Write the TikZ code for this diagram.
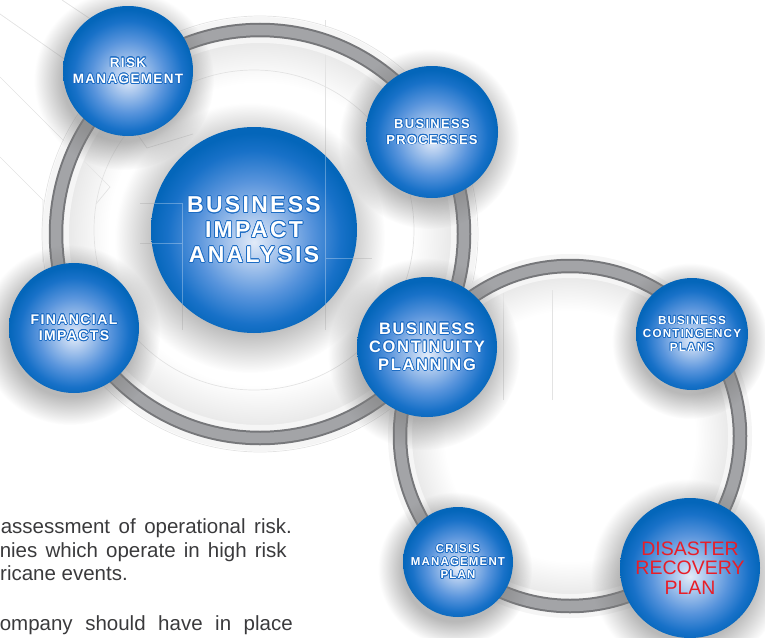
\documentclass[tikz,border=0pt]{standalone}
\usepackage{fontspec}
\setmainfont{Liberation Sans}
\newfontfamily\ballfont{Liberation Sans}[LetterSpace=10]
\usepackage[copies]{contour}
\contourlength{0.7pt}
\usetikzlibrary{fadings}

\definecolor{ballcore}{RGB}{226,235,248}
\definecolor{balllite}{RGB}{178,204,239}
\definecolor{ballmid}{RGB}{88,148,220}
\definecolor{balldeep}{RGB}{24,113,200}
\definecolor{balledge}{RGB}{4,102,186}
\definecolor{ballline}{RGB}{28,108,196}
\definecolor{ringdark}{RGB}{118,119,122}
\definecolor{ringmid}{RGB}{163,164,167}
\definecolor{drpred}{RGB}{232,30,40}
\definecolor{bodytext}{RGB}{58,58,60}

% TikZ maps 25bp of a shading onto the rim of the path
\pgfdeclareradialshading{ballshade}{\pgfpoint{0bp}{-3bp}}{%
  color(0bp)=(ballcore); color(5bp)=(balllite); color(14bp)=(ballmid);
  color(21bp)=(balldeep); color(25bp)=(balledge); color(50bp)=(balledge)}
\pgfdeclareradialshading{ballfadeshade}{\pgfpointorigin}{%
  color(0bp)=(pgftransparent!45); color(17bp)=(pgftransparent!45);
  color(25bp)=(pgftransparent!100); color(50bp)=(pgftransparent!100)}
\pgfdeclarefading{ballfade}{\pgfuseshading{ballfadeshade}}
\pgfdeclareradialshading{ringfadeshade}{\pgfpointorigin}{%
  color(0bp)=(pgftransparent!100); color(19bp)=(pgftransparent!100);
  color(25bp)=(pgftransparent!0); color(50bp)=(pgftransparent!0)}
\pgfdeclarefading{ringfade}{\pgfuseshading{ringfadeshade}}

\newcommand{\balltxt}[1]{\contour{ballline}{#1}}

\begin{document}
\begin{tikzpicture}[x=1pt, y=-1pt,
  ball/.style={circle, inner sep=0pt, shade, shading=ballshade, text=white, align=center},
  ballglow/.style={fill=black!50, path fading=ballfade},
  ring/.style={line width=14.5pt, draw=ringdark},
  ringin/.style={line width=10.5pt, draw=ringmid},
  bgline/.style={draw=black!11, line width=0.7pt},
  body/.style={anchor=base east, inner sep=0pt, text=bodytext, font=\fontsize{20.5}{24}\selectfont}]
\useasboundingbox (0,0) rectangle (765,637);

% Ring centres
\coordinate (ringA) at (260,234);
\coordinate (ringB) at (570,436);

% Faint background lines
\draw[bgline] (0,14) -- (80,70);
\draw[bgline] (62,0) -- (95,22);
\draw[bgline] (0,77) -- (110,187) -- (96,204);
\draw[bgline] (0,157) -- (43,200) -- (43,262);
\draw[bgline] (133,128) -- (147,148) -- (193,134);
\draw[bgline] (325,20) -- (325,330);
\draw[bgline] (140,203) -- (182,203) -- (182,330);
\draw[bgline] (140,243) -- (182,243);
\draw[bgline] (325,258) -- (372,258);
\draw[bgline] (503,290) -- (503,400);
\draw[bgline] (552,290) -- (552,400);
\draw[bgline] (254,230) circle[radius=160pt];
\draw[bgline] (ringA) circle[radius=218pt];

% Rings
\fill[black!10, path fading=ringfade] (ringA) circle[radius=198pt];
\fill[black!10, path fading=ringfade] (ringB) circle[radius=164pt];
\draw[line width=26pt, black!4] (ringA) circle[radius=204pt];
\draw[line width=24pt, black!4] (ringB) circle[radius=170pt];
\draw[ring] (ringA) circle[radius=204pt];
\draw[ringin] (ringA) circle[radius=204pt];
\draw[ring] (ringB) circle[radius=170pt];
\draw[ringin] (ringB) circle[radius=170pt];

% Shadows
\fill[ballglow] (124,80) circle[radius=90pt];
\fill[ballglow] (429,139) circle[radius=90pt];
\fill[ballglow] (250,238) circle[radius=135pt];
\fill[ballglow] (70,335) circle[radius=90pt];
\fill[ballglow] (424,354) circle[radius=96pt];
\fill[ballglow] (690,341) circle[radius=78pt];
\fill[ballglow] (455,569) circle[radius=77pt];
\fill[ballglow] (687,575) circle[radius=96pt];

% Spheres
\node[ball, minimum size=130pt, font=\ballfont\bfseries\fontsize{13.5}{16.5}\selectfont] (risk) at (128,71)
  {\balltxt{RISK}\\\balltxt{MANAGEMENT}};
\node[ball, minimum size=132pt, font=\ballfont\bfseries\fontsize{13}{16}\selectfont] (proc) at (432,132)
  {\balltxt{BUSINESS}\\\balltxt{PROCESSES}};
\node[ball, minimum size=206pt, font=\ballfont\bfseries\fontsize{23}{25}\selectfont] (bia) at (254,230)
  {\balltxt{BUSINESS}\\\balltxt{IMPACT}\\\balltxt{ANALYSIS}};
\node[ball, minimum size=130pt, font=\ballfont\bfseries\fontsize{14}{16}\selectfont] (fin) at (74,328)
  {\balltxt{FINANCIAL}\\\balltxt{IMPACTS}};
\node[ball, minimum size=140pt, font=\ballfont\bfseries\fontsize{16.5}{18}\selectfont] (bcp) at (427,347)
  {\balltxt{BUSINESS}\\\balltxt{CONTINUITY}\\\balltxt{PLANNING}};
\node[ball, minimum size=112pt, font=\ballfont\bfseries\fontsize{11.7}{13.5}\selectfont] (plans) at (692,334)
  {\balltxt{BUSINESS}\\\balltxt{CONTINGENCY}\\\balltxt{PLANS}};
\node[ball, minimum size=110pt, font=\ballfont\bfseries\fontsize{11.5}{13}\selectfont] (crisis) at (458,562)
  {\balltxt{CRISIS}\\\balltxt{MANAGEMENT}\\\balltxt{PLAN}};
\node[ball, minimum size=140pt, text=drpred, font=\fontsize{19.5}{19.5}\selectfont] (drp) at (690,568)
  {DISASTER\\RECOVERY\\PLAN};

% Lines showing through the centre sphere
\begin{scope}
\clip (bia) circle[radius=103pt];
\draw[white, opacity=0.3, line width=0.7pt] (325,20) -- (325,330) (325,258) -- (372,258)
  (140,203) -- (182,203) -- (182,330) (140,243) -- (182,243);
\end{scope}

% Body text
\node[body] (line1) at (292,533) {\makebox[291pt][s]{assessment of operational risk.}};
\node[body] (line2) at (287,557) {\makebox[287pt][s]{nies which operate in high risk}};
\node[body] (line3) at (128,580) {ricane events.};
\node[body] (line4) at (293,630) {\makebox[293pt][s]{ompany should have in place}};
\end{tikzpicture}
\end{document}
